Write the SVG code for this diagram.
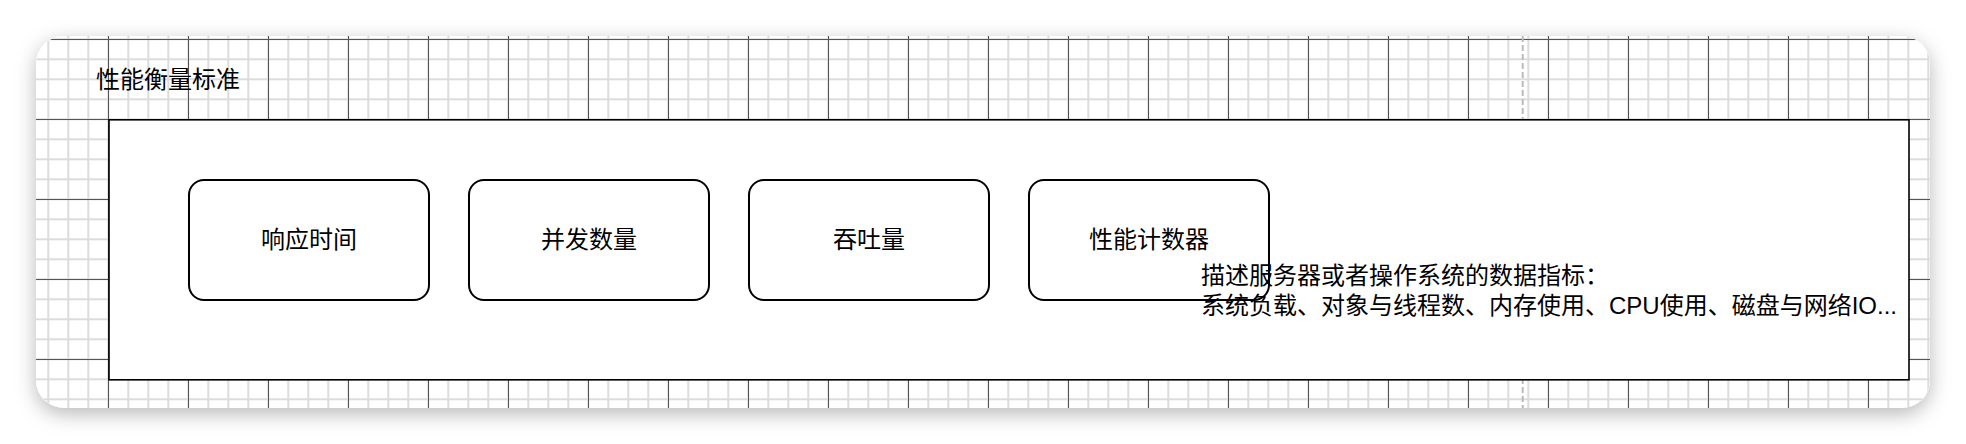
<svg xmlns="http://www.w3.org/2000/svg" width="1966" height="444" viewBox="0 0 1966 444">
  <style>
    .node { fill: #ffffff; stroke: #000000; stroke-width: 2; }
    .label { font-family: "Liberation Sans", "Noto Sans CJK SC", sans-serif; font-size: 24px; fill: #000000; }
    .center { text-anchor: middle; }
  </style>
  <defs>
    <filter id="shadow" x="-5%" y="-30%" width="110%" height="160%">
      <feDropShadow dx="0" dy="6" stdDeviation="10" flood-color="#000000" flood-opacity="0.28"/>
    </filter>
    <pattern id="minor" patternUnits="userSpaceOnUse" x="7.3" y="-1.7" width="20" height="20">
      <rect x="0" y="0" width="2" height="20" fill="#dcdcdc"/>
      <rect x="0" y="0" width="20" height="2" fill="#dcdcdc"/>
    </pattern>
    <pattern id="major" patternUnits="userSpaceOnUse" x="28" y="39" width="80" height="80">
      <rect x="0" y="0" width="1" height="80" fill="#555555"/>
      <rect x="0" y="0" width="80" height="1" fill="#555555"/>
    </pattern>
    <clipPath id="bgclip">
      <rect x="36" y="36" width="1894" height="372" rx="28" ry="28"/>
    </clipPath>
  </defs>

  <rect width="1966" height="444" fill="#ffffff"/>

  <g id="background">
    <rect x="36" y="36" width="1894" height="372" rx="28" ry="28" fill="#ffffff" filter="url(#shadow)"/>
    <g clip-path="url(#bgclip)">
      <rect x="36" y="36" width="1894" height="372" fill="url(#minor)"/>
      <rect x="36" y="36" width="1894" height="372" fill="url(#major)"/>
      <line x1="1522.7" y1="36" x2="1522.7" y2="408" stroke="#bbbbbb" stroke-width="2" stroke-dasharray="6 3"/>
    </g>
  </g>

  <g id="title">
    <text class="label" x="96" y="88">性能衡量标准</text>
  </g>

  <g id="container">
    <rect x="109" y="119.8" width="1800" height="260" fill="#ffffff" stroke="#000000" stroke-width="1.6"/>
  </g>

  <g id="node-response-time">
    <rect class="node" x="189" y="180" width="240" height="120" rx="15" ry="15"/>
    <text class="label center" x="309" y="248">响应时间</text>
  </g>

  <g id="node-concurrency">
    <rect class="node" x="469" y="180" width="240" height="120" rx="15" ry="15"/>
    <text class="label center" x="589" y="248">并发数量</text>
  </g>

  <g id="node-throughput">
    <rect class="node" x="749" y="180" width="240" height="120" rx="15" ry="15"/>
    <text class="label center" x="869" y="248">吞吐量</text>
  </g>

  <g id="node-perf-counter">
    <rect class="node" x="1029" y="180" width="240" height="120" rx="15" ry="15"/>
    <text class="label center" x="1149" y="248">性能计数器</text>
  </g>

  <g id="note">
    <text class="label" x="1201" y="284">描述服务器或者操作系统的数据指标：</text>
    <text class="label" x="1201" y="314">系统负载、对象与线程数、内存使用、CPU使用、磁盘与网络IO...</text>
  </g>

  <g id="connectors"/>
</svg>
